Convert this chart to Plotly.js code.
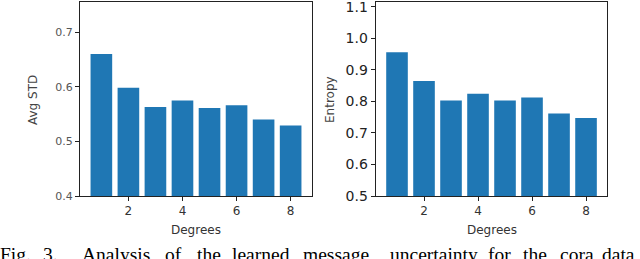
<!DOCTYPE html>
<html>
<head>
<meta charset="utf-8">
<script src="https://cdn.plot.ly/plotly-3.0.1.min.js"></script>
<style>html,body{margin:0;padding:0;background:#fff;}#chart{width:640px;height:259px;}</style>
</head>
<body>
<div id="chart"></div>
<script>
// Data
const degrees = [1, 2, 3, 4, 5, 6, 7, 8];
const avgStd = [0.660, 0.598, 0.563, 0.575, 0.561, 0.566, 0.540, 0.529];
const entropy = [0.956, 0.865, 0.803, 0.824, 0.803, 0.812, 0.762, 0.747];
const xTickVals = [2, 4, 6, 8];
const captionWords = ["Fig.", "3.", "Analysis", "of", "the", "learned", "message", "uncertainty", "for", "the", "cora", "data"];

// Layout (pixel positions of caption words, justified line)
const captionWordX = [0, 43, 82, 165, 197, 232, 303, 390, 488, 523, 560, 602];

const barColor = '#1f77b4';
const traces = [
  {type: 'bar', x: degrees, y: avgStd, width: 0.8, marker: {color: barColor}, xaxis: 'x', yaxis: 'y', hoverinfo: 'skip'},
  {type: 'bar', x: degrees, y: entropy, width: 0.8, marker: {color: barColor}, xaxis: 'x2', yaxis: 'y2', hoverinfo: 'skip'}
];

const axCommon = {
  showline: true, mirror: true, linecolor: '#222', linewidth: 1,
  ticks: 'outside', ticklen: 4, tickwidth: 1, tickcolor: '#222',
  showgrid: false, zeroline: false, fixedrange: true, ticklabeloverflow: 'allow'
};
const fontFam = 'DejaVu Sans, sans-serif';

const annotations = [
  {text: 'Avg STD', xref: 'paper', yref: 'paper', x: 33/640, y: 1 - 100/259, textangle: -90, showarrow: false,
    xanchor: 'center', yanchor: 'middle', font: {family: fontFam, size: 12, color: '#444'}},
  {text: 'Entropy', xref: 'paper', yref: 'paper', x: 330/640, y: 1 - 100/259, textangle: -90, showarrow: false,
    xanchor: 'center', yanchor: 'middle', font: {family: fontFam, size: 12, color: '#444'}},
  {text: 'Degrees', xref: 'paper', yref: 'paper', x: 196/640, y: 1 - 230/259, showarrow: false,
    xanchor: 'center', yanchor: 'middle', font: {family: fontFam, size: 12, color: '#333'}},
  {text: 'Degrees', xref: 'paper', yref: 'paper', x: 492/640, y: 1 - 230/259, showarrow: false,
    xanchor: 'center', yanchor: 'middle', font: {family: fontFam, size: 12, color: '#333'}}
];
captionWords.forEach((w, i) => {
  annotations.push({text: w, xref: 'paper', yref: 'paper', x: (captionWordX[i] - 1)/640, y: 1 - 243/259,
    showarrow: false, xanchor: 'left', yanchor: 'top', borderpad: 0,
    font: {family: 'Liberation Serif, Times New Roman, serif', size: 19.5, color: '#000'}});
});

const layout = {
  width: 640, height: 259,
  margin: {l: 0, r: 0, t: 0, b: 0},
  paper_bgcolor: '#fff', plot_bgcolor: '#fff',
  showlegend: false,
  xaxis: Object.assign({}, axCommon, {domain: [0.125, 0.4875], range: [0.21, 8.79], tickvals: xTickVals, anchor: 'y',
    tickfont: {family: fontFam, size: 12, color: '#333'}}),
  yaxis: Object.assign({}, axCommon, {domain: [0.2432, 0.992], range: [0.4, 0.755], dtick: 0.1, tick0: 0.4, tickformat: '.1f', anchor: 'x',
    tickfont: {family: fontFam, size: 11, color: '#555'}}),
  xaxis2: Object.assign({}, axCommon, {domain: [0.587, 0.949], range: [0.21, 8.79], tickvals: xTickVals, anchor: 'y2',
    tickfont: {family: fontFam, size: 12, color: '#333'}}),
  yaxis2: Object.assign({}, axCommon, {domain: [0.2432, 0.992], range: [0.5, 1.115], dtick: 0.1, tick0: 0.5, tickformat: '.1f', anchor: 'x2',
    tickfont: {family: fontFam, size: 14, color: '#222'}}),
  annotations: annotations
};

Plotly.newPlot('chart', traces, layout, {staticPlot: true, displayModeBar: false});
</script>
</body>
</html>
